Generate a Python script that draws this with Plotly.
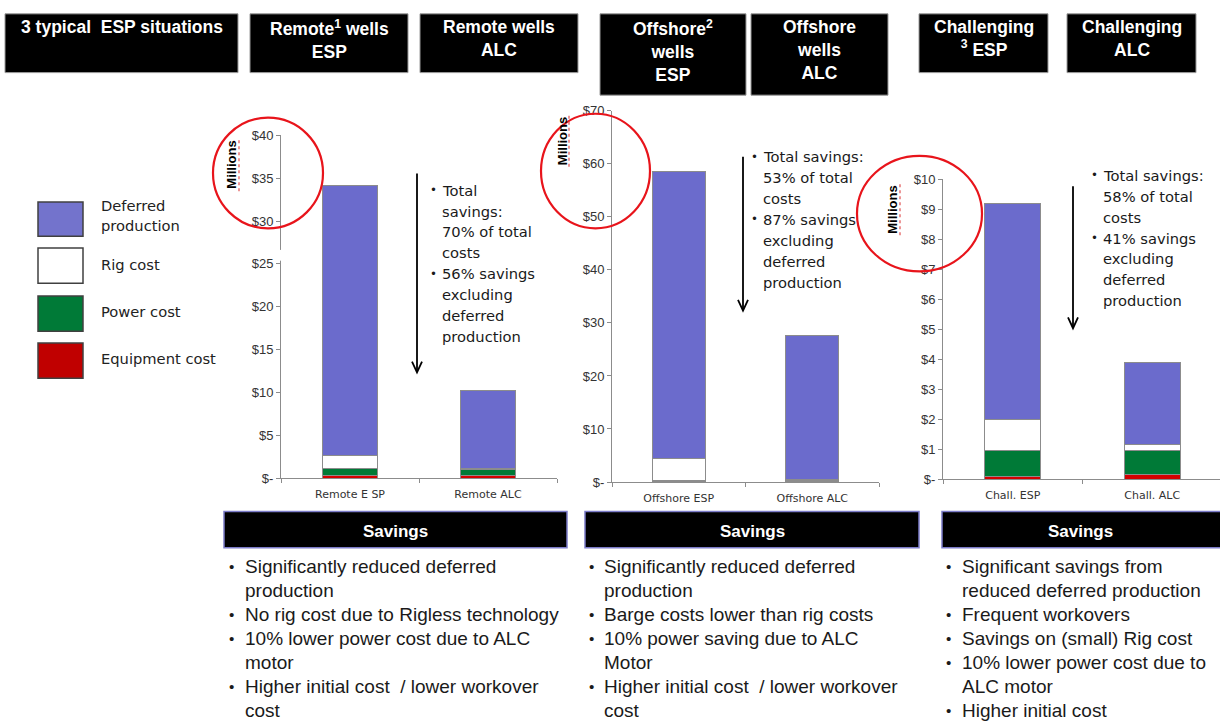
import plotly.graph_objects as go

W, H = 1220, 728

# ---------------- data ----------------
series_names = ["Equipment cost", "Power cost", "Rig cost", "Deferred production"]
series_colors = ["#D40000", "#007A37", "#FFFFFF", "#6B6BCC"]
legend_colors = ["#C00000", "#007A37", "#FFFFFF", "#7373CC"]

remote_cats = ["Remote E SP", "Remote ALC"]
remote_equipment = [0.3, 0.3]
remote_power = [0.8, 0.75]
remote_rig = [1.5, 0.05]
remote_deferred = [31.6, 9.15]

offshore_cats = ["Offshore ESP", "Offshore ALC"]
offshore_equipment = [0.1, 0.1]
offshore_power = [0.15, 0.15]
offshore_rig = [4.15, 0.3]
offshore_deferred = [54.1, 27.15]

chall_cats = ["Chall. ESP", "Chall. ALC"]
chall_equipment = [0.1, 0.15]
chall_power = [0.85, 0.8]
chall_rig = [1.05, 0.2]
chall_deferred = [7.2, 2.75]

remote_ticks = [0, 5, 10, 15, 20, 25, 30, 35, 40]
offshore_ticks = [0, 10, 20, 30, 40, 50, 60, 70]
chall_ticks = [0, 1, 2, 3, 4, 5, 6, 7, 8, 9, 10]

headers = ["3 typical \u00a0ESP situations", "Remote<sup>1</sup> wells<br>ESP", "Remote wells<br>ALC",
           "Offshore<sup>2</sup><br>wells<br>ESP", "Offshore<br>wells<br>ALC",
           "Challenging<br><sup>3</sup> ESP", "Challenging<br>ALC"]

remote_notes = [["Total", "savings:", "70% of total", "costs"],
                ["56% savings", "excluding", "deferred", "production"]]
offshore_notes = [["Total savings:", "53% of total", "costs"],
                  ["87% savings", "excluding", "deferred", "production"]]
chall_notes = [["Total savings:", "58% of total", "costs"],
               ["41% savings", "excluding", "deferred", "production"]]

remote_savings = [["Significantly reduced deferred", "production"],
                  ["No rig cost due to Rigless technology"],
                  ["10% lower power cost due to ALC", "motor"],
                  ["Higher initial cost  / lower workover", "cost"]]
offshore_savings = [["Significantly reduced deferred", "production"],
                    ["Barge costs lower than rig costs"],
                    ["10% power saving due to ALC", "Motor"],
                    ["Higher initial cost  / lower workover", "cost"]]
chall_savings = [["Significant savings from", "reduced deferred production"],
                 ["Frequent workovers"],
                 ["Savings on (small) Rig cost"],
                 ["10% lower power cost due to", "ALC motor"],
                 ["Higher initial cost"]]

savings_title = "Savings"
axis_unit = "Millions"


def px(x):
    return x / W


def py(y):
    return 1 - y / H


def money(v):
    return "$-" if v == 0 else f"${v}"


fig = go.Figure()

panels = [
    dict(cats=remote_cats, vals=[remote_equipment, remote_power, remote_rig, remote_deferred],
         ticks=remote_ticks, x0=281, x1=557, y0=481, ytop=131, rng=[-0.5, 1.5], ymax=40),
    dict(cats=offshore_cats, vals=[offshore_equipment, offshore_power, offshore_rig, offshore_deferred],
         ticks=offshore_ticks, x0=612, x1=879, y0=485, ytop=106, rng=[-0.5, 1.5], ymax=70),
    dict(cats=chall_cats, vals=[chall_equipment, chall_power, chall_rig, chall_deferred],
         ticks=chall_ticks, x0=943, x1=1220, y0=482, ytop=176, rng=[-0.5, 1.486], ymax=10),
]

for i, p in enumerate(panels):
    n = "" if i == 0 else str(i + 1)
    for s in range(4):
        fig.add_trace(go.Bar(
            x=p["cats"], y=p["vals"][s], name=series_names[s],
            marker=dict(color=series_colors[s], line=dict(color="#8C8C8C", width=1)),
            width=0.4, xaxis="x" + n, yaxis="y" + n, showlegend=False,
            hoverinfo="skip"))
    fig.layout["xaxis" + n] = dict(
        domain=[px(p["x0"]), min(1, px(p["x1"]))], range=p["rng"], anchor="y" + n,
        showline=True, linecolor="#8C8C8C", linewidth=1, ticks="outside", tickson="boundaries",
        ticklen=4, tickcolor="#8C8C8C", showgrid=False, zeroline=False, ticklabelstandoff=6,
        tickfont=dict(family="DejaVu Sans", size=11, color="#333333"), fixedrange=True)
    fig.layout["yaxis" + n] = dict(
        domain=[py(p["y0"]), py(p["ytop"])], range=[0, p["ymax"]], anchor="x" + n,
        showline=True, linecolor="#8C8C8C", linewidth=1, ticks="outside", ticklen=4,
        tickcolor="#8C8C8C", showgrid=False, zeroline=False,
        tickvals=p["ticks"], ticktext=[money(v) for v in p["ticks"]],
        tickfont=dict(family="Liberation Sans, Arial", size=13, color="#333333"), fixedrange=True)

shapes = []
annotations = []

# axis break on the first panel
shapes.append(dict(type="rect", xref="paper", yref="paper", x0=px(276), x1=px(286),
                   y0=py(259), y1=py(248), fillcolor="white", line=dict(width=0), layer="above"))

# header boxes
header_boxes = [(5, 238, 7, 67), (250, 408, 7, 67), (420, 578, 7, 67), (600, 746, 7, 90),
                (751, 888, 7, 90), (919, 1048, 7, 67), (1067, 1196, 7, 67)]
for (x0, x1, y0, y1), t in zip(header_boxes, headers):
    shapes.append(dict(type="rect", xref="paper", yref="paper", x0=px(x0), x1=px(x1),
                       y0=py(y1), y1=py(y0), fillcolor="black", line=dict(color="#9A9A9A", width=1)))
    annotations.append(dict(xref="paper", yref="paper", x=px((x0 + x1) / 2), y=py(8),
                            xanchor="center", yanchor="top", text="<b>" + t + "</b>", showarrow=False,
                            font=dict(family="Liberation Sans, Arial", size=17.5, color="white"),
                            align="center"))

# legend (custom)
legend_rows = [(3, 199, 234, [203, 223], ["Deferred", "production"]),
               (2, 246, 282, [263], ["Rig cost"]),
               (1, 295, 331, [311], ["Power cost"]),
               (0, 343, 379, [359], ["Equipment cost"])]
for idx, y0, y1, ys, lines in legend_rows:
    shapes.append(dict(type="rect", xref="paper", yref="paper", x0=px(38), x1=px(83),
                       y0=py(y1), y1=py(y0), fillcolor=legend_colors[idx],
                       line=dict(color="#404040", width=1.5)))
    for yy, tt in zip(ys, lines):
        annotations.append(dict(xref="paper", yref="paper", x=px(99), y=py(yy), xanchor="left",
                                yanchor="middle", text=tt, showarrow=False,
                                font=dict(family="DejaVu Sans", size=14.7, color="#222222")))

# red circles
for x0, x1, y0, y1 in [(213, 323, 113, 226), (541, 650, 109, 226), (857, 982, 152, 270)]:
    shapes.append(dict(type="circle", xref="paper", yref="paper", x0=px(x0), x1=px(x1),
                       y0=py(y1), y1=py(y0), line=dict(color="#E8141B", width=2.2), layer="above"))

# Millions labels with red wavy underline
for cx, cy, wx, wy0, wy1 in [(232, 161, 239, 135, 188), (562, 137, 569, 111, 163), (893, 207, 900, 180, 233)]:
    annotations.append(dict(xref="paper", yref="paper", x=px(cx), y=py(cy), text="<b>" + axis_unit + "</b>",
                            textangle=-90, showarrow=False, xanchor="center", yanchor="middle",
                            font=dict(family="Liberation Sans, Arial", size=13, color="black")))
    shapes.append(dict(type="line", xref="paper", yref="paper", x0=px(wx), x1=px(wx), y0=py(wy1),
                       y1=py(wy0), line=dict(color="#E05050", width=1.2, dash="dot"), layer="above"))

# arrows (shaft + open head)
for x, y0, y1 in [(417, 170, 373), (743, 153, 310), (1073, 183, 328)]:
    shapes.append(dict(type="line", xref="paper", yref="paper", x0=px(x), x1=px(x), y0=py(y1 - 1),
                       y1=py(y0), line=dict(color="black", width=1.8)))
    shapes.append(dict(type="path", xref="paper", yref="paper",
                       path=f"M {px(x - 5)},{py(y1 - 11)} L {px(x)},{py(y1)} L {px(x + 5)},{py(y1 - 11)}",
                       line=dict(color="black", width=1.8)))


def bullet_block(groups, bx, tx, y_first, step, fam, size, color):
    y = y_first
    for g in groups:
        annotations.append(dict(xref="paper", yref="paper", x=px(bx), y=py(y), xanchor="center",
                                yanchor="middle", text="•", showarrow=False,
                                font=dict(family=fam, size=size * 0.8, color=color)))
        for line in g:
            annotations.append(dict(xref="paper", yref="paper", x=px(tx), y=py(y), xanchor="left",
                                    yanchor="middle", text=line.replace("  ", " \u00a0"), showarrow=False,
                                    font=dict(family=fam, size=size, color=color)))
            y += step


bullet_block(remote_notes, 433, 440, 187, 21.3, "DejaVu Sans", 14.7, "#1A1A1A")
bullet_block(offshore_notes, 754, 761, 153, 21.3, "DejaVu Sans", 14.7, "#1A1A1A")
bullet_block(chall_notes, 1094, 1101, 172, 21.3, "DejaVu Sans", 14.7, "#1A1A1A")

# savings boxes
for x0, x1 in [(224, 567), (585, 919), (942, 1222)]:
    shapes.append(dict(type="rect", xref="paper", yref="paper", x0=px(x0), x1=px(x1),
                       y0=py(552), y1=py(515), fillcolor="black", line=dict(color="#7B7BC8", width=1.5)))
    annotations.append(dict(xref="paper", yref="paper", x=px((x0 + min(x1, 1218)) / 2), y=py(536),
                            xanchor="center", yanchor="middle", text="<b>" + savings_title + "</b>",
                            showarrow=False, font=dict(family="Liberation Sans, Arial", size=17, color="white")))

bullet_block(remote_savings, 231, 243, 571, 24.5, "Liberation Sans, Arial", 19, "#1A1A1A")
bullet_block(offshore_savings, 591, 602, 571, 24.5, "Liberation Sans, Arial", 19, "#1A1A1A")
bullet_block(chall_savings, 948, 960, 571, 24.5, "Liberation Sans, Arial", 19, "#1A1A1A")

fig.update_layout(
    width=W, height=H, margin=dict(l=0, r=0, t=0, b=0), barmode="stack", bargap=0.6,
    plot_bgcolor="white", paper_bgcolor="white", showlegend=False,
    shapes=shapes, annotations=annotations,
    font=dict(family="Liberation Sans, Arial"))

fig.write_html("out.html", config={"displayModeBar": False})
